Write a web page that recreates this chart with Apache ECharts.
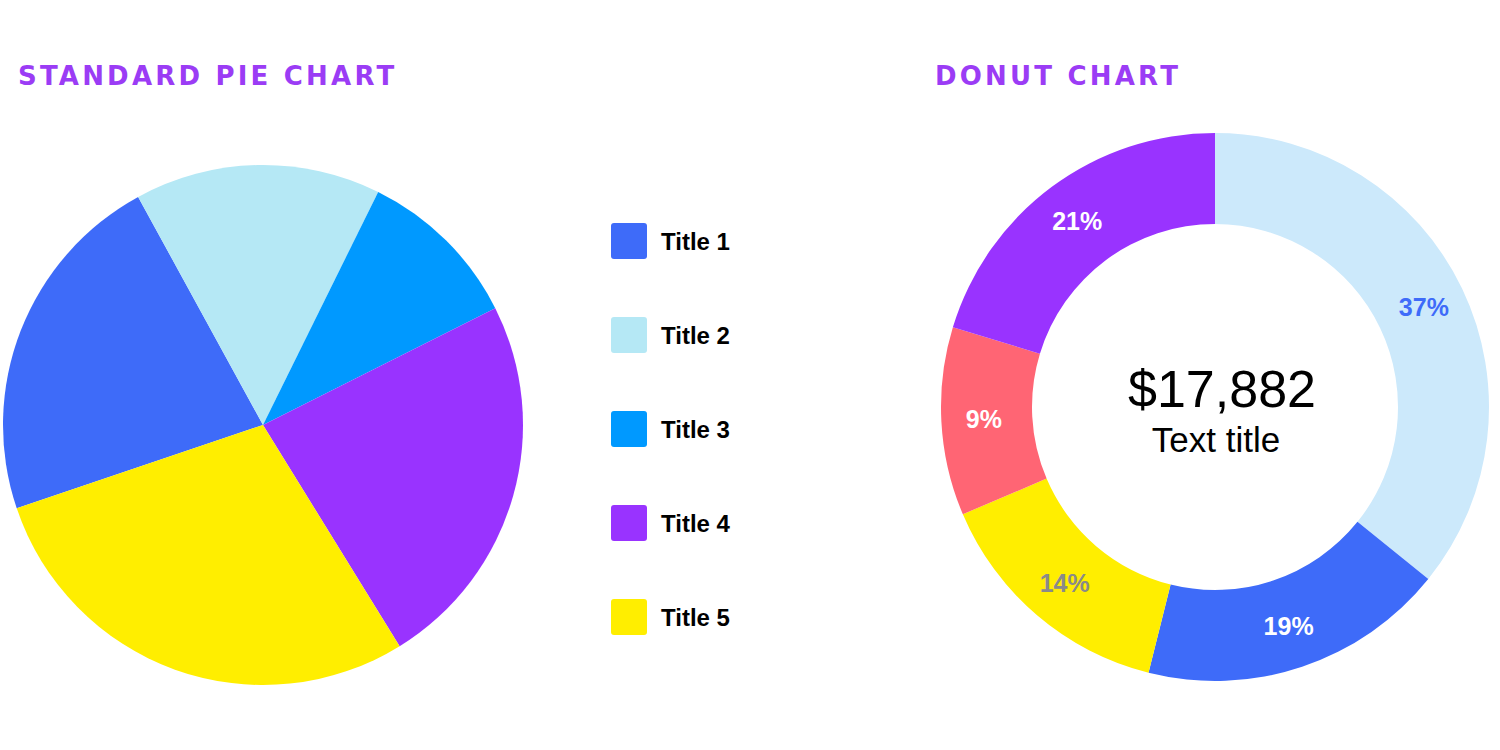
<!DOCTYPE html>
<html>
<head>
<meta charset="utf-8">
<script src="https://cdn.jsdelivr.net/npm/echarts@6/dist/echarts.min.js"></script>
<style>
  html, body { margin: 0; padding: 0; background: #ffffff; }
  #chart { width: 1500px; height: 750px; }
  #chart text[fill="#9b3cf5"] { letter-spacing: 3.2px; }
</style>
</head>
<body>
<div id="chart"></div>
<script>
// ---- data ----
const pieTitle = 'STANDARD PIE CHART';
const donutTitle = 'DONUT CHART';
const pieCategories = ['Title 1', 'Title 2', 'Title 3', 'Title 4', 'Title 5'];
const pieValues = [80, 55, 37, 85, 103];
const pieColors = ['#3e6bf9', '#b5e8f5', '#0099ff', '#9933ff', '#ffee00'];

const donutCategories = ['Segment A', 'Segment B', 'Segment C', 'Segment D', 'Segment E'];
const donutValues = [35.8, 18.1, 14.7, 11.1, 20.3];   // slice sizes as drawn
const donutLabels = ['37%', '19%', '14%', '9%', '21%']; // printed labels
const donutColors = ['#cce9fb', '#3e6bf9', '#ffee00', '#ff6574', '#9933ff'];
const donutLabelColors = ['#3e6bf9', '#ffffff', '#8a8a8a', '#ffffff', '#ffffff'];
const donutTotal = '$17,882';
const donutSubtitle = 'Text title';

const chart = echarts.init(document.getElementById('chart'), null, { renderer: 'svg' });

const squareIcon = 'path://M3,0H33A3,3,0,0,1,36,3V33A3,3,0,0,1,33,36H3A3,3,0,0,1,0,33V3A3,3,0,0,1,3,0Z';

const option = {
  backgroundColor: '#ffffff',
  animation: false,
  legend: {
    data: pieCategories,
    orient: 'vertical',
    left: 611,
    top: 223,
    padding: 0,
    itemWidth: 36,
    itemHeight: 36,
    itemGap: 58,
    icon: squareIcon,
    selectedMode: false,
    textStyle: {
      fontFamily: 'Liberation Sans, Arial, sans-serif',
      fontWeight: 'bold',
      fontSize: 24,
      color: '#000000',
      padding: [0, 0, 0, 9]
    }
  },
  graphic: [
    {
      type: 'text', x: 18, y: 76,
      style: {
        text: pieTitle, fill: '#9b3cf5',
        font: 'bold 26px "DejaVu Sans"',
        textAlign: 'left', textVerticalAlign: 'middle', align: 'left', verticalAlign: 'middle'
      }
    },
    {
      type: 'text', x: 935, y: 76,
      style: {
        text: donutTitle, fill: '#9b3cf5',
        font: 'bold 26px "DejaVu Sans"',
        textAlign: 'left', textVerticalAlign: 'middle', align: 'left', verticalAlign: 'middle'
      }
    },
    {
      type: 'text', x: 1222, y: 389,
      style: {
        text: donutTotal, fill: '#000000',
        font: '52px "Liberation Sans", Arial, sans-serif',
        textAlign: 'center', textVerticalAlign: 'middle', align: 'center', verticalAlign: 'middle'
      }
    },
    {
      type: 'text', x: 1216, y: 439,
      style: {
        text: donutSubtitle, fill: '#000000',
        font: '35px "Liberation Sans", Arial, sans-serif',
        textAlign: 'center', textVerticalAlign: 'middle', align: 'center', verticalAlign: 'middle'
      }
    }
  ],
  series: [
    {
      type: 'pie',
      center: [263, 425],
      radius: 260,
      startAngle: 198.7,
      clockwise: true,
      label: { show: false },
      labelLine: { show: false },
      emphasis: { disabled: true },
      itemStyle: { borderWidth: 0 },
      data: pieCategories.map((n, i) => ({
        name: n, value: pieValues[i], itemStyle: { color: pieColors[i] }
      }))
    },
    {
      type: 'pie',
      center: [1215, 407],
      radius: [183, 274],
      startAngle: 90,
      clockwise: true,
      labelLine: { show: false },
      emphasis: { disabled: true },
      itemStyle: { borderWidth: 0 },
      label: {
        show: true,
        position: 'inside',
        formatter: (p) => donutLabels[p.dataIndex],
        fontFamily: 'Liberation Sans, Arial, sans-serif',
        fontWeight: 'bold',
        fontSize: 25
      },
      data: donutCategories.map((n, i) => ({
        name: n, value: donutValues[i],
        itemStyle: { color: donutColors[i] },
        label: { color: donutLabelColors[i] }
      }))
    }
  ]
};

chart.setOption(option);
</script>
</body>
</html>
